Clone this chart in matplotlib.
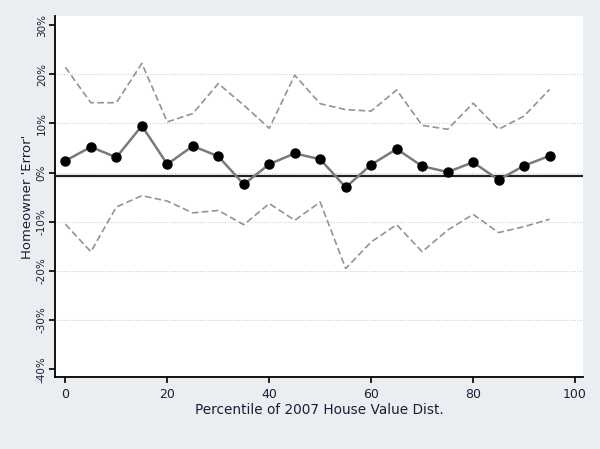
import matplotlib

matplotlib.use("Agg")
import matplotlib.pyplot as plt
from matplotlib.ticker import FuncFormatter

# percentile of 2007 house value distribution
pctile = [0, 5, 10, 15, 20, 25, 30, 35, 40, 45, 50, 55, 60, 65, 70, 75, 80, 85, 90, 95]

# homeowner "error" (percent): point estimate and upper / lower bands
mean_err = [2.4, 5.2, 3.1, 9.5, 1.7, 5.4, 3.3, -2.4, 1.7, 3.9,
            2.7, -3.0, 1.6, 4.8, 1.3, 0.1, 2.1, -1.5, 1.4, 3.4]
upper = [21.4, 14.2, 14.2, 22.2, 10.3, 12.0, 18.1, 13.7, 9.0, 19.8,
         14.0, 12.8, 12.5, 16.8, 9.6, 8.8, 14.1, 8.8, 11.5, 16.9]
lower = [-10.5, -16.1, -7.0, -4.7, -5.8, -8.2, -7.7, -10.6, -6.3, -9.7,
         -6.0, -19.5, -14.1, -10.6, -16.1, -11.7, -8.5, -12.2, -11.0, -9.5]
ref_level = -0.7

x_ticks = [0, 20, 40, 60, 80, 100]
y_ticks = [30, 20, 10, 0, -10, -20, -30, -40]

text_col = "#1c1c3a"

fig = plt.figure(figsize=(6.0, 4.49), dpi=100, facecolor="#ebeef1")
ax = fig.add_axes([0.092, 0.160, 0.880, 0.804])
ax.set_facecolor("white")

# light dotted grid on the interior ticks
for yv in y_ticks[1:-1]:
    ax.axhline(yv, color="#c8d0d6", linestyle=(0, (1, 1.5)), linewidth=0.8, zorder=0)

ax.plot(pctile, upper, color="#939393", linestyle=(0, (4, 2)), linewidth=1.2, zorder=2)
ax.plot(pctile, lower, color="#939393", linestyle=(0, (4, 2)), linewidth=1.2, zorder=2)
ax.axhline(ref_level, color="#222222", linewidth=1.6, zorder=3)
ax.plot(pctile, mean_err, color="#7a7a7a", linewidth=1.8, marker="o",
        markersize=6.5, markerfacecolor="black", markeredgecolor="black", zorder=4)

ax.set_xlim(-2, 101.6)
ax.set_ylim(-41.6, 31.8)

ax.set_xticks(x_ticks)
ax.set_yticks(y_ticks)
ax.yaxis.set_major_formatter(FuncFormatter(lambda v, _: f"{v:.0f}%"))
ax.tick_params(axis="x", length=4, width=1.2, labelsize=9, colors="black",
               labelcolor=text_col, pad=4)
ax.tick_params(axis="y", length=4, width=1.2, labelsize=7.5, colors="black",
               labelcolor=text_col, labelrotation=90, pad=2)
for lab in ax.get_yticklabels():
    lab.set_verticalalignment("center")

for side in ("top", "right"):
    ax.spines[side].set_visible(False)
for side in ("left", "bottom"):
    ax.spines[side].set_linewidth(1.3)

ax.set_xlabel("Percentile of 2007 House Value Dist.", fontsize=9.8, color=text_col, labelpad=1)
ax.set_ylabel("Homeowner 'Error'", fontsize=9.5, color=text_col, labelpad=2)

fig.savefig("out.png", dpi=100, facecolor=fig.get_facecolor())
